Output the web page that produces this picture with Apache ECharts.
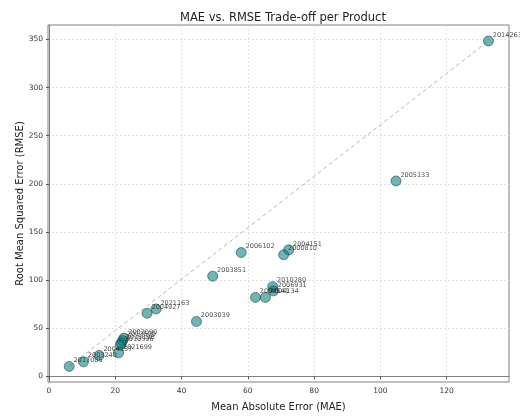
<!DOCTYPE html>
<html>
<head>
<meta charset="utf-8">
<script src="https://cdn.jsdelivr.net/npm/echarts@6/dist/echarts.min.js"></script>
<style>
  html, body { margin: 0; padding: 0; background: #fff; }
  #chart { width: 520px; height: 417px; }
</style>
</head>
<body>
<div id="chart"></div>
<script>
// product ids with their MAE / RMSE
var products = [
  "2014263", "2005133", "2004151", "2000810", "2006102", "2003851",
  "2010280", "2006931", "2009541", "2004134", "2003039", "2021163",
  "2004927", "2002090", "2013590", "2015196", "2010596", "2021699",
  "2004137", "2003240", "2017085"
];
var mae = [
  132.6, 104.7, 72.3, 70.8, 58.0, 49.4,
  67.5, 67.7, 62.3, 65.3, 44.5, 32.3,
  29.6, 22.6, 22.2, 21.8, 21.5, 21.0,
  15.1, 10.4, 6.1
];
var rmse = [
  348.4, 202.9, 131.3, 126.2, 128.5, 104.0,
  93.1, 88.7, 81.9, 81.9, 56.9, 69.9,
  65.4, 39.6, 37.0, 34.5, 32.4, 24.3,
  21.6, 15.0, 10.2
];
var xTicks = [0, 20, 40, 60, 80, 100, 120];
var yTicks = [0, 50, 100, 150, 200, 250, 300, 350];

var points = products.map(function (id, i) {
  return { name: id, value: [mae[i], rmse[i]] };
});

// dashed reference line between the extremes
var diag = [
  [Math.min.apply(null, mae), Math.min.apply(null, rmse)],
  [Math.max.apply(null, mae), Math.max.apply(null, rmse)]
];

var font = "DejaVu Sans";
var myChart = echarts.init(document.getElementById("chart"));

var option = {
  animation: false,
  textStyle: { fontFamily: font },
  title: {
    text: "MAE vs. RMSE Trade-off per Product",
    left: 278,
    top: 7,
    textAlign: "center",
    textStyle: { fontFamily: font, fontSize: 11.5, fontWeight: "normal", color: "#222" },
  },
  grid: {
    left: 48,
    right: 11,
    top: 25,
    bottom: 30,
    show: true,
    borderColor: "#808080",
    borderWidth: 1,
    backgroundColor: "#fff",
  },
  xAxis: {
    type: "value",
    min: -0.3,
    max: 138.8,
    name: "Mean Absolute Error (MAE)",
    nameLocation: "middle",
    nameGap: 20,
    nameMoveOverlap: false,
    nameTextStyle: { fontFamily: font, fontSize: 10, color: "#222" },
    axisLine: { show: true, lineStyle: { color: "#808080" } },
    axisTick: { show: true, length: 3, customValues: xTicks, lineStyle: { color: "#555" } },
    axisLabel: { customValues: xTicks, fontSize: 7.5, color: "#333", margin: 5 },
    splitLine: { show: true, lineStyle: { color: "#dadada", type: [2, 2], width: 0.8 } },
  },
  yAxis: {
    type: "value",
    min: -6,
    max: 365,
    name: "Root Mean Squared Error (RMSE)",
    nameLocation: "middle",
    nameGap: 23,
    nameMoveOverlap: false,
    nameTextStyle: { fontFamily: font, fontSize: 10, color: "#222" },
    axisLine: { show: true, lineStyle: { color: "#808080" } },
    axisTick: { show: true, length: 3, customValues: yTicks, lineStyle: { color: "#555" } },
    axisLabel: { customValues: yTicks, fontSize: 7.5, color: "#333", margin: 5 },
    splitLine: { show: true, lineStyle: { color: "#dadada", type: [2, 2], width: 0.8 } },
  },
  series: [
    {
      type: "line",
      data: diag,
      symbol: "none",
      silent: true,
      z: 1,
      lineStyle: { color: "#b8b8b8", width: 1, type: [4, 3] },
    },
    {
      type: "scatter",
      data: points,
      symbol: "circle",
      symbolSize: 10,
      z: 2,
      itemStyle: {
        color: "rgba(0, 128, 128, 0.72)",
        borderColor: "rgba(20, 40, 40, 0.8)",
        borderWidth: 0.8,
      },
      label: {
        show: true,
        formatter: "{b}",
        position: "right",
        distance: -1,
        offset: [0, -6],
        fontFamily: font,
        fontSize: 6.5,
        color: "#222",
      },
    },
  ],
};

option && myChart.setOption(option);
</script>
</body>
</html>
